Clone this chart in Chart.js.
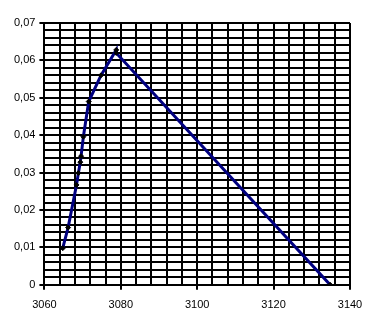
<!DOCTYPE html>
<html>
<head>
<meta charset="utf-8">
<script src="https://cdn.jsdelivr.net/npm/chart.js@4/dist/chart.umd.min.js"></script>
<style>
  body { margin: 0; background: #fff; }
  #wrap { width: 378px; height: 327px; }
</style>
</head>
<body>
<div id="wrap"><canvas id="chart"></canvas></div>
<script>
var xValues = [3064.8, 3066.2, 3068.4, 3068.9, 3069.4, 3069.6, 3070.2, 3071.6, 3074.8, 3078.8, 3078.8, 3134.8];
var yValues = [0.0098, 0.0153, 0.0267, 0.0299, 0.0328, 0.0344, 0.0396, 0.049, 0.056, 0.0628, 0.062, 0.0];
var xTicks = [3060, 3080, 3100, 3120, 3140];
var yTicks = ["0", "0,01", "0,02", "0,03", "0,04", "0,05", "0,06", "0,07"];

var points = xValues.map(function (x, i) { return { x: x, y: yValues[i] }; });

Chart.defaults.font.family = "'Liberation Sans', Arial, sans-serif";
Chart.defaults.font.size = 11;
Chart.defaults.color = "#000";

function isMajorX(v) { return xTicks.indexOf(Math.round(v)) >= 0; }
function isMajorY(v) { return Math.abs(v * 100 - Math.round(v * 100)) < 1e-6; }

new Chart(document.getElementById("chart"), {
  type: "scatter",
  data: {
    datasets: [{
      data: points,
      showLine: true,
      borderColor: "#000080",
      borderWidth: 3,
      pointStyle: "rectRot",
      pointRadius: 2.5,
      pointBackgroundColor: "#000",
      pointBorderColor: "#000",
      pointBorderWidth: 1
    }]
  },
  options: {
    responsive: true,
    maintainAspectRatio: false,
    animation: false,
    layout: { padding: { left: 10, right: 28, top: 23, bottom: 6 } },
    plugins: { legend: { display: false }, tooltip: { enabled: false } },
    scales: {
      x: {
        type: "linear",
        min: 3060,
        max: 3140,
        border: { color: "#000", width: 2 },
        grid: {
          color: "#000",
          lineWidth: 2,
          tickLength: 5,
          tickColor: function (c) { return isMajorX(c.tick.value) ? "#000" : "rgba(0,0,0,0)"; }
        },
        ticks: {
          stepSize: 4,
          autoSkip: false,
          maxRotation: 0,
          padding: 9,
          callback: function (v) { return isMajorX(v) ? String(Math.round(v)) : ""; }
        }
      },
      y: {
        min: 0,
        max: 0.07,
        border: { color: "#000", width: 2 },
        grid: {
          color: "#000",
          lineWidth: 2,
          tickLength: 5,
          tickColor: function (c) { return isMajorY(c.tick.value) ? "#000" : "rgba(0,0,0,0)"; }
        },
        ticks: {
          stepSize: 0.002,
          autoSkip: false,
          padding: 4,
          callback: function (v) { return isMajorY(v) ? yTicks[Math.round(v * 100)] : ""; }
        }
      }
    }
  }
});
</script>
</body>
</html>
